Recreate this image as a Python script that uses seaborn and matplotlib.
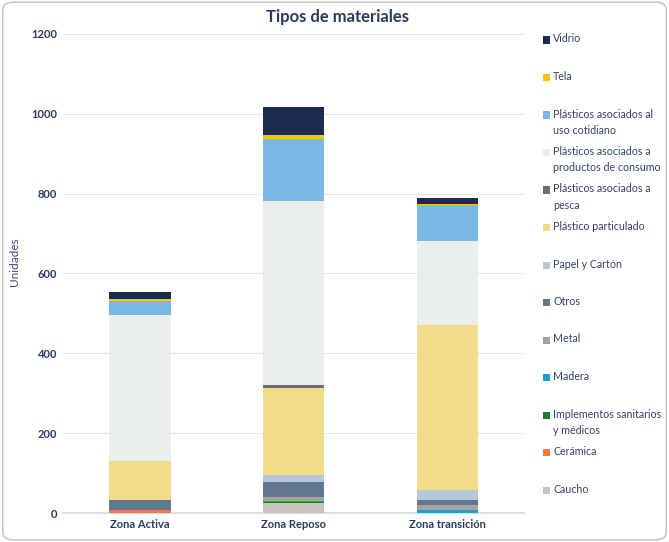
import matplotlib.pyplot as plt
import numpy as np
import pandas as pd
import seaborn as sns
from matplotlib.patches import FancyBboxPatch, Rectangle

zonas = ["Zona Activa", "Zona Reposo", "Zona transición"]

# stacking order, bottom to top
categorias = [
    "Caucho",
    "Cerámica",
    "Implementos sanitarios\ny médicos",
    "Madera",
    "Metal",
    "Otros",
    "Papel y Cartón",
    "Plástico particulado",
    "Plásticos asociados a\npesca",
    "Plásticos asociados a\nproductos de consumo",
    "Plásticos asociados al\nuso cotidiano",
    "Tela",
    "Vidrio",
]

caucho = [0, 24, 0]
ceramica = [8, 0, 0]
implementos = [0, 3, 0]
madera = [0, 3, 7]
metal = [0, 9, 14]
otros = [25, 39, 11]
papel = [0, 17, 25]
particulado = [97, 219, 413]
pesca = [0, 7, 0]
consumo = [367, 461, 211]
cotidiano = [33, 155, 90]
tela = [6, 10, 4]
vidrio = [17, 70, 13]

colores = [
    "#cbc4bc",
    "#ee7b3a",
    "#1e7a30",
    "#1aa0d8",
    "#a9a39f",
    "#627891",
    "#b5c8d9",
    "#f0dc8a",
    "#6d6d6d",
    "#e9eeea",
    "#7ab8e6",
    "#f2c512",
    "#1b2a4f",
]

navy = "#2a3a60"

series = [caucho, ceramica, implementos, madera, metal, otros, papel,
          particulado, pesca, consumo, cotidiano, tela, vidrio]
df = pd.DataFrame(series, index=categorias, columns=zonas)
acumulado = df.cumsum()

sns.set_theme(style="white")
plt.rcParams["font.family"] = ["Lato", "DejaVu Sans"]

fig = plt.figure(figsize=(6.69, 5.42), dpi=100)
ax = fig.add_axes([0.094, 0.0535, 0.69, 0.884])

# draw cumulative totals from the top layer down so each covers the one above
for cat, color in reversed(list(zip(categorias, colores))):
    sns.barplot(x=zonas, y=acumulado.loc[cat].values, color=color,
                width=0.4, linewidth=0, saturation=1, ax=ax, zorder=3)

ax.set_ylim(0, 1200)
ax.set_yticks(range(0, 1201, 200))
ax.yaxis.grid(True, color="#e6e6e6", linewidth=0.8, zorder=0)
ax.set_axisbelow(True)
for s in ["top", "right", "left"]:
    ax.spines[s].set_visible(False)
ax.spines["bottom"].set_color("#d9d9d9")
ax.tick_params(axis="both", length=0, labelsize=8, labelcolor=navy, pad=4)
for lbl in ax.get_xticklabels() + ax.get_yticklabels():
    lbl.set_fontweight("bold")
ax.set_xlabel("")
ax.set_ylabel("Unidades", color="#3a4a80", fontsize=8.5)
ax.yaxis.set_label_coords(-0.093, 0.524)

fig.text(0.505, 0.968, "Tipos de materiales", ha="center", va="center",
         fontsize=12, fontweight="bold", color=navy)

# legend, top entry first, evenly spaced
y0 = 1 - 40 / 542
step = 37.5 / 542
for i, (cat, color) in enumerate(zip(categorias[::-1], colores[::-1])):
    y = y0 - i * step
    fig.patches.append(Rectangle((543 / 669, y - 3.5 / 542), 7 / 669, 7 / 542,
                                 transform=fig.transFigure, facecolor=color,
                                 edgecolor="none"))
    fig.text(553 / 669, y + 6.5 / 542, cat, ha="left", va="top", fontsize=7.7,
             color="#33406a", linespacing=1.6)

fig.patches.append(FancyBboxPatch((0.004, 0.004), 0.992, 0.992,
                                  boxstyle="round,pad=0,rounding_size=0.015",
                                  transform=fig.transFigure, facecolor="none",
                                  edgecolor="#bfbfbf", linewidth=1))

fig.savefig("out.png", dpi=100)
